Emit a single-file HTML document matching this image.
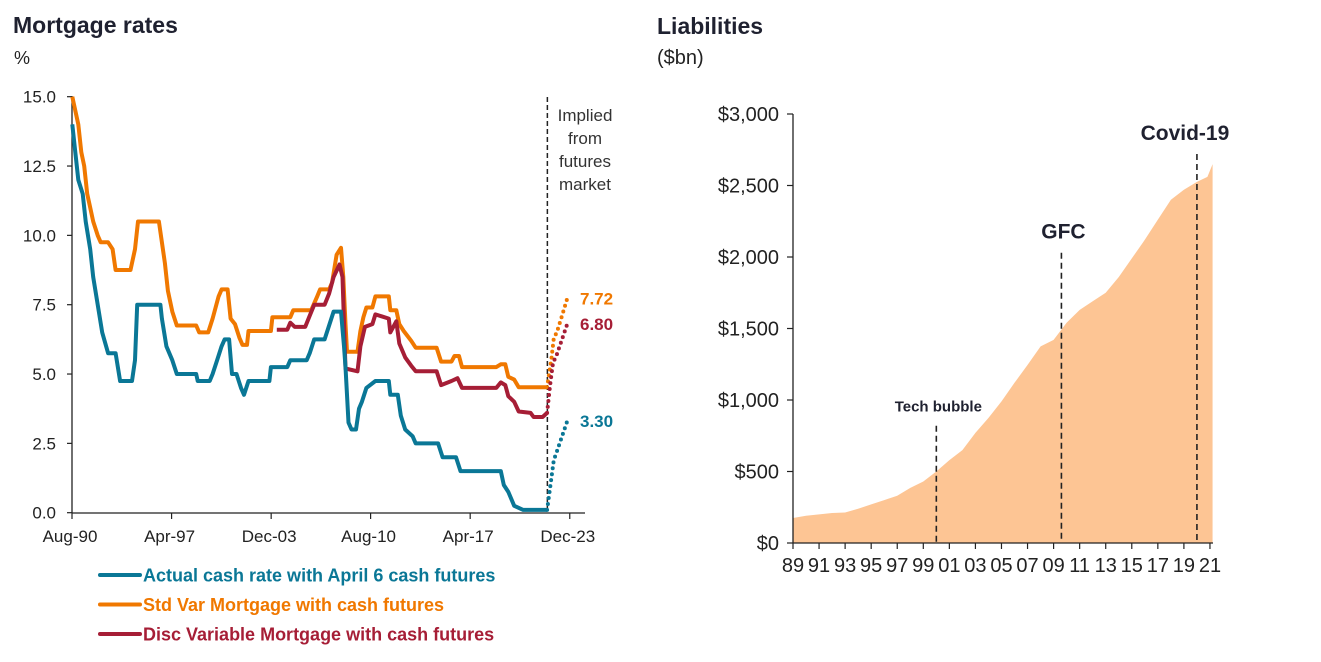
<!DOCTYPE html>
<html><head><meta charset="utf-8"><style>
body{margin:0;background:#fff;font-family:"Liberation Sans",Arial,sans-serif;}
svg text{font-family:"Liberation Sans",Arial,sans-serif;}
</style></head><body>
<svg id="c" width="1321" height="657" viewBox="0 0 1321 657" xmlns="http://www.w3.org/2000/svg">
<text x="13" y="33" font-size="23" font-weight="bold" fill="#1f2130">Mortgage rates</text>
<text x="14" y="64" font-size="18" fill="#222">%</text>
<text x="657" y="34" font-size="23" font-weight="bold" fill="#1f2130">Liabilities</text>
<text x="657" y="64" font-size="20" fill="#222">($bn)</text>
<g id="left"></g>
<g id="right"></g>
</svg>
<script>
const ns="http://www.w3.org/2000/svg";
// ---- Mortgage rates data (decimal year, %) ----
const cashT=[1990.6,1990.8,1991.0,1991.3,1991.5,1991.8,1992.0,1992.3,1992.6,1993.0,1993.5,1993.8,1994.6,1994.8,1994.95,1996.5,1996.6,1996.9,1997.3,1997.6,1998.9,1999.0,1999.8,2000.0,2000.3,2000.6,2000.8,2001.1,2001.3,2001.6,2001.9,2002.1,2002.4,2003.8,2003.9,2005.0,2005.2,2006.3,2006.5,2006.8,2007.5,2007.8,2008.1,2008.6,2008.8,2008.9,2009.1,2009.3,2009.6,2009.8,2010.0,2010.3,2010.9,2011.8,2011.9,2012.4,2012.6,2012.9,2013.4,2013.6,2015.1,2015.4,2016.3,2016.6,2019.3,2019.5,2019.8,2020.2,2020.8,2022.4];
const cashV=[14,13,12,11.5,10.5,9.5,8.5,7.5,6.5,5.75,5.75,4.75,4.75,5.5,7.5,7.5,7.0,6.0,5.5,5.0,5.0,4.75,4.75,5.0,5.5,6.0,6.25,6.25,5.0,5.0,4.5,4.25,4.75,4.75,5.25,5.25,5.5,5.5,5.75,6.25,6.25,6.75,7.25,7.25,6.0,5.25,3.25,3.0,3.0,3.75,4.0,4.5,4.75,4.75,4.25,4.25,3.5,3.0,2.75,2.5,2.5,2.0,2.0,1.5,1.5,1.0,0.75,0.25,0.1,0.1];
const cashFutT=[2022.4,2022.6,2022.85,2023.05,2023.75];
const cashFutV=[0.1,0.9,1.9,2.2,3.3];
const svrT=[1990.6,1990.8,1991.0,1991.2,1991.4,1991.6,1991.8,1992.0,1992.3,1992.5,1993.0,1993.3,1993.5,1994.5,1994.8,1995.0,1995.3,1996.4,1996.6,1996.8,1997.0,1997.3,1997.6,1998.9,1999.1,1999.7,2000.0,2000.4,2000.6,2001.0,2001.2,2001.5,2001.8,2002.0,2002.3,2002.4,2003.9,2004.0,2005.2,2005.4,2006.6,2006.8,2007.0,2007.2,2007.8,2008.0,2008.3,2008.6,2008.75,2008.9,2009.0,2009.7,2009.9,2010.1,2010.3,2010.7,2010.9,2011.8,2011.9,2012.3,2012.5,2012.8,2013.3,2013.6,2015.0,2015.3,2016.0,2016.2,2016.5,2016.7,2019.0,2019.3,2019.6,2019.8,2020.2,2020.5,2022.4];
const svrV=[15.0,14.5,14.0,13.0,12.5,11.5,11.0,10.5,10.0,9.75,9.75,9.5,8.75,8.75,9.5,10.5,10.5,10.5,9.75,9.0,8.0,7.25,6.75,6.75,6.5,6.5,7.0,7.8,8.05,8.05,7.0,6.8,6.3,6.05,6.05,6.55,6.55,7.05,7.05,7.3,7.3,7.55,7.8,8.05,8.05,8.3,9.3,9.55,8.5,6.8,5.8,5.8,6.55,7.05,7.4,7.4,7.8,7.8,7.3,7.3,6.8,6.55,6.2,5.95,5.95,5.45,5.45,5.65,5.65,5.25,5.25,5.35,5.35,4.9,4.8,4.52,4.52];
const svrFutT=[2022.4,2022.7,2022.85,2023.05,2023.4,2023.75];
const svrFutV=[4.52,5.6,6.3,6.5,7.1,7.72];
const dvrT=[2004.3,2005.0,2005.2,2005.5,2006.2,2006.5,2006.8,2007.5,2007.8,2008.1,2008.5,2008.7,2008.9,2009.7,2009.9,2010.2,2010.7,2010.9,2011.8,2011.9,2012.3,2012.5,2012.9,2013.3,2013.6,2015.0,2015.3,2016.0,2016.4,2016.7,2019.0,2019.3,2019.6,2019.8,2020.2,2020.5,2021.3,2021.5,2022.1,2022.4];
const dvrV=[6.6,6.6,6.85,6.7,6.7,7.1,7.5,7.5,7.9,8.5,8.95,8.5,5.2,5.1,6.0,6.7,6.8,7.15,7.0,6.5,6.9,6.1,5.6,5.3,5.1,5.1,4.6,4.75,4.85,4.5,4.5,4.7,4.6,4.2,4.0,3.65,3.6,3.45,3.45,3.6];
const dvrFutT=[2022.4,2022.6,2022.8,2023.05,2023.75];
const dvrFutV=[3.6,4.6,5.4,5.7,6.8];
const leftYTicks=[0,2.5,5,7.5,10,12.5,15];
const leftXTickT=[1990.58,1997.25,2003.92,2010.58,2017.25,2023.92];
const leftXTickL=["Aug-90","Apr-97","Dec-03","Aug-10","Apr-17","Dec-23"];
const endLabels=["7.72","6.80","3.30"];
// ---- Liabilities data ----
const liabT=[1989,1990,1991,1992,1993,1994,1995,1996,1997,1998,1999,2000,2001,2002,2003,2004,2005,2006,2007,2008,2009,2010,2011,2012,2013,2014,2015,2016,2017,2018,2019,2020,2020.8,2021.2];
const liabV=[175,190,200,210,213,240,270,300,330,385,430,500,580,650,770,875,990,1120,1245,1375,1420,1540,1630,1690,1750,1860,1990,2120,2260,2400,2470,2525,2560,2650];
const rightYTicks=[0,500,1000,1500,2000,2500,3000];
const rightYLabels=["$0","$500","$1,000","$1,500","$2,000","$2,500","$3,000"];
const rightXTicks=[1989,1991,1993,1995,1997,1999,2001,2003,2005,2007,2009,2011,2013,2015,2017,2019,2021];
const events=["Tech bubble","GFC","Covid-19"];
const eventT=[2000,2009.6,2020.0];
const eventTop=[820,2030,2720];

function el(tag,a,parent){const e=document.createElementNS(ns,tag);for(const k in a)e.setAttribute(k,a[k]);parent.appendChild(e);return e;}
const L=document.getElementById('left');
const lx=t=>72+(t-1990.58)*14.93;
const ly=v=>512.7-v*(416/15);
function pts(T,V){return T.map((t,i)=>lx(t).toFixed(1)+","+ly(V[i]).toFixed(1)).join(" ");}
let e;
e=el('line',{x1:72,y1:96,x2:72,y2:513,stroke:'#222','stroke-width':1.3},L);

e=el('line',{x1:72,y1:513,x2:585,y2:513,stroke:'#222','stroke-width':1.3},L);

leftYTicks.forEach(v=>{
 el('line',{x1:67,y1:ly(v),x2:72,y2:ly(v),stroke:'#222','stroke-width':1.2},L);
 e=el('text',{x:56,y:ly(v)+6,'font-size':17,'text-anchor':'end',fill:'#222'},L);e.textContent=v.toFixed(1);
 
});
leftXTickT.forEach((t,i)=>{
 el('line',{x1:lx(t),y1:513,x2:lx(t),y2:519,stroke:'#222','stroke-width':1.2},L);
 e=el('text',{x:lx(t)-2,y:542,'font-size':17,'text-anchor':'middle',fill:'#222'},L);e.textContent=leftXTickL[i];
 
});
e=el('line',{x1:lx(2022.42),y1:97,x2:lx(2022.42),y2:513,stroke:'#222','stroke-width':1.5,'stroke-dasharray':'5,3'},L);

["Implied","from","futures","market"].forEach((s,i)=>{
 e=el('text',{x:585,y:121+i*23,'font-size':17,'text-anchor':'middle',fill:'#333'},L);e.textContent=s;
 
});
const ser=[[svrT,svrV,svrFutT,svrFutV,'#f07800','svr'],[dvrT,dvrV,dvrFutT,dvrFutV,'#a61e36','dvr'],[cashT,cashV,cashFutT,cashFutV,'#0a7796','cash-rate']];
ser.forEach(s=>{
 e=el('polyline',{points:pts(s[0],s[1]),fill:'none',stroke:s[4],'stroke-width':4,'stroke-linejoin':'round'},L);
 
 e=el('polyline',{points:pts(s[2],s[3]),fill:'none',stroke:s[4],'stroke-width':4,'stroke-dasharray':'0,6','stroke-linecap':'round'},L);
 
});
[[svrFutV,'#f07800'],[dvrFutV,'#a61e36'],[cashFutV,'#0a7796']].forEach((s,i)=>{
 e=el('text',{x:580,y:ly(s[0][s[0].length-1])+6,'font-size':17,'font-weight':'bold',fill:s[1]},L);e.textContent=endLabels[i];
 
});
const legs=[["Actual cash rate with April 6 cash futures",'#0a7796'],["Std Var Mortgage with cash futures",'#f07800'],["Disc Variable Mortgage with cash futures",'#a61e36']];
legs.forEach((g,i)=>{
 const y=575+i*29.5;
 e=el('line',{x1:100,y1:y,x2:140,y2:y,stroke:g[1],'stroke-width':4,'stroke-linecap':'round'},L);
 
 e=el('text',{x:143,y:y+6.5,'font-size':18,'font-weight':'bold',fill:g[1]},L);e.textContent=g[0];
 
});
const R=document.getElementById('right');
const rx=t=>793+(t-1989)*13.03;
const ry=v=>543-v*(429/3000);
let d="M"+rx(liabT[0])+","+ry(0);
liabT.forEach((t,i)=>{d+=" L"+rx(t).toFixed(1)+","+ry(liabV[i]).toFixed(1);});
d+=" L"+rx(liabT[liabT.length-1])+","+ry(0)+" Z";
e=el('path',{d:d,fill:'#fdc594'},R);

e=el('line',{x1:793,y1:114,x2:793,y2:543,stroke:'#222','stroke-width':1.3},R);

e=el('line',{x1:793,y1:543,x2:1213,y2:543,stroke:'#222','stroke-width':1.3},R);

rightYTicks.forEach((v,i)=>{
 el('line',{x1:787,y1:ry(v),x2:793,y2:ry(v),stroke:'#222','stroke-width':1.2},R);
 e=el('text',{x:779,y:ry(v)+7,'font-size':20,'text-anchor':'end',fill:'#222'},R);e.textContent=rightYLabels[i];
 
});
rightXTicks.forEach(t=>{
 el('line',{x1:rx(t),y1:543,x2:rx(t),y2:549,stroke:'#222','stroke-width':1.2},R);
 e=el('text',{x:rx(t),y:572,'font-size':20,'text-anchor':'middle',fill:'#222'},R);e.textContent=String(t).slice(2);
 
});
const evSize=[15,21,21];
events.forEach((s,i)=>{
 const x=rx(eventT[i]);
 e=el('line',{x1:x,y1:ry(eventTop[i]),x2:x,y2:543,stroke:'#222','stroke-width':1.6,'stroke-dasharray':'6,4'},R);
 
 e=el('text',{x:i==2?x-12:x+2,y:ry(eventTop[i])-14,'font-size':evSize[i],'font-weight':'bold','text-anchor':'middle',fill:'#1f2130'},R);e.textContent=s;
 
});
</script>
</body></html>
